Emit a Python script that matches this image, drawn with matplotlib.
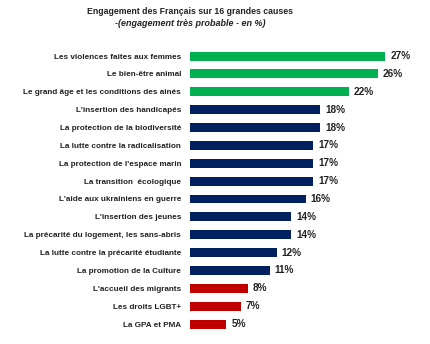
import matplotlib
matplotlib.use("Agg")
import matplotlib.pyplot as plt

causes = [
    "Les violences faites aux femmes",
    "Le bien-être animal",
    "Le grand âge et les conditions des ainés",
    "L'insertion des handicapés",
    "La protection de la biodiversité",
    "La lutte contre la radicalisation",
    "La protection de l'espace marin",
    "La transition  écologique",
    "L'aide aux ukrainiens en guerre",
    "L'insertion des jeunes",
    "La précarité du logement, les sans-abris",
    "La lutte contre la précarité étudiante",
    "La promotion de la Culture",
    "L'accueil des migrants",
    "Les droits LGBT+",
    "La GPA et PMA",
]
values = [27, 26, 22, 18, 18, 17, 17, 17, 16, 14, 14, 12, 11, 8, 7, 5]
groups = ["top"] * 3 + ["mid"] * 10 + ["low"] * 3

palette = {"top": "#00B050", "mid": "#002060", "low": "#C00000"}
colors = [palette[g] for g in groups]

plt.rcParams["font.family"] = ["Liberation Sans", "DejaVu Sans"]

fig = plt.figure(figsize=(4.3, 3.44), dpi=100)
ax = fig.add_axes([0.442, 0.032, 0.504, 0.831])

ypos = list(range(len(causes)))
ax.barh(ypos, values, height=0.5, color=colors)
ax.set_xlim(0, 30)
ax.set_ylim(len(causes) - 0.5, -0.5)

for y, v in zip(ypos, values):
    ax.text(v + 0.7, y, f"{v}%", va="center", ha="left",
            fontsize=7.2, fontweight="bold", color="#222222")

ax.set_yticks(ypos)
ax.set_yticklabels(causes, fontsize=5.85, fontweight="bold", color="#222222")
ax.tick_params(axis="y", length=0, pad=6.5)
ax.set_xticks([])
for s in ax.spines.values():
    s.set_visible(False)

fig.text(0.442, 0.968, "Engagement des Français sur 16 grandes causes",
         ha="center", va="center", fontsize=6.3, fontweight="bold", color="#222222")
fig.text(0.442, 0.932, "-(engagement très probable - en %)",
         ha="center", va="center", fontsize=6.5, fontweight="bold",
         style="italic", color="#222222")

fig.savefig("out.png", dpi=100)
